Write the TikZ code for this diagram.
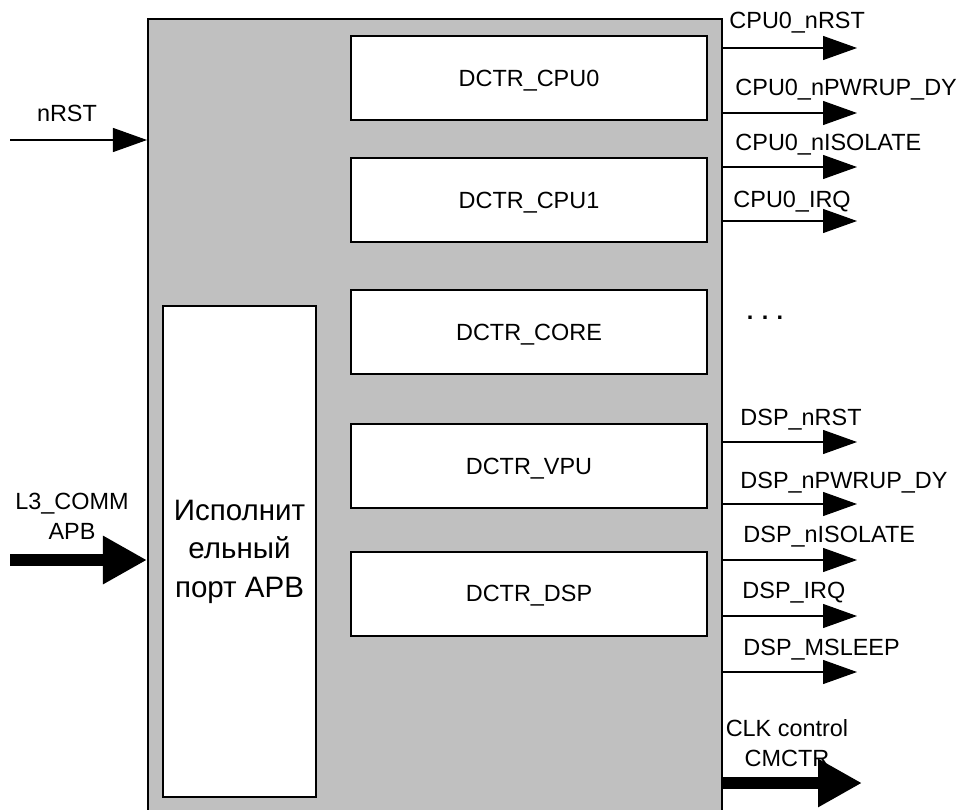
\documentclass[tikz,border=0pt]{standalone}
\usepackage{fontspec}
\setmainfont{Liberation Sans}
\usepackage{xcolor}
\usepackage{tikz}
\usetikzlibrary{arrows.meta,positioning}
\definecolor{panelgray}{HTML}{C0C0C0}

\begin{document}
\begin{tikzpicture}[
  x=0.15mm, y=-0.15mm,
  every node/.style={font=\fontsize{10}{12.8}\selectfont},
  unit/.style={draw, line width=0.3mm, fill=white, minimum width=53.4mm, minimum height=12.6mm, inner sep=0pt, text height=7.2pt, text depth=0pt},
  sig/.style={-{Triangle[length=5.1mm, width=3.6mm]}, line width=0.5pt},
  bus/.style={-{Triangle[length=6.6mm, width=6.8mm]}, line width=1.8mm},
  lbl/.style={anchor=base west, inner sep=0pt},
  twoline/.style={anchor=south, inner sep=0pt, align=center}
]
\useasboundingbox (0,0) rectangle (960,809);
\clip (0,0) rectangle (960,809);

\node[draw, line width=0.3mm, fill=panelgray, minimum width=86.1mm, minimum height=121.65mm] (main) at (435,424.5) {};
\node[draw, line width=0.3mm, fill=white, minimum width=22.95mm, minimum height=73.65mm, align=center, font=\fontsize{12.6}{16.4}\selectfont] (apb) at (239.5,551.5) {Исполнит\\ельный\\порт APB};

\node[unit] (cpu0) at (529,78) {DCTR\_CPU0};
\node[unit] (cpu1) at (529,200) {DCTR\_CPU1};
\node[unit] (core) at (529,332) {DCTR\_CORE};
\node[unit] (vpu) at (529,466) {DCTR\_VPU};
\node[unit] (dsp) at (529,593.5) {DCTR\_DSP};

\coordinate (rstin) at (10,140);
\coordinate (busin) at (10,560);
\node[inner sep=0pt, anchor=base] (lrst) at (67,121) {nRST};
\node[twoline] (lbusin) at (72,540) {L3\_COMM\\APB};
\draw[sig] (rstin) -- (main.west |- rstin);
\draw[bus] (busin) -- (main.west |- busin);

\coordinate (c1) at (857,48);
\coordinate (c2) at (857,113);
\coordinate (c3) at (857,167);
\coordinate (c4) at (857,221);
\coordinate (d1) at (857,442);
\coordinate (d2) at (857,504);
\coordinate (d3) at (857,560);
\coordinate (d4) at (857,616);
\coordinate (d5) at (857,672);
\coordinate (clkout) at (862,783);

\draw[sig] (main.east |- c1) -- (c1);
\draw[sig] (main.east |- c2) -- (c2);
\draw[sig] (main.east |- c3) -- (c3);
\draw[sig] (main.east |- c4) -- (c4);
\draw[sig] (main.east |- d1) -- (d1);
\draw[sig] (main.east |- d2) -- (d2);
\draw[sig] (main.east |- d3) -- (d3);
\draw[sig] (main.east |- d4) -- (d4);
\draw[sig] (main.east |- d5) -- (d5);
\draw[bus] (main.east |- clkout) -- (clkout);

\node[lbl] (lc1) at (729,29) {CPU0\_nRST};
\node[lbl] (lc2) at (735,95) {CPU0\_nPWRUP\_DY};
\node[lbl] (lc3) at (735,150) {CPU0\_nISOLATE};
\node[lbl] (lc4) at (733,207) {CPU0\_IRQ};
\node[font=\bfseries, inner sep=0pt] (gap) at (765,318) {.\hspace{1.27mm}.\hspace{1.27mm}.};
\node[lbl] (ld1) at (740,425) {DSP\_nRST};
\node[lbl] (ld2) at (740,488) {DSP\_nPWRUP\_DY};
\node[lbl] (ld3) at (743,542) {DSP\_nISOLATE};
\node[lbl] (ld4) at (742,598) {DSP\_IRQ};
\node[lbl] (ld5) at (743,655) {DSP\_MSLEEP};
\node[twoline] (lclk) at (787,767) {CLK control\\CMCTR};
\end{tikzpicture}
\end{document}
